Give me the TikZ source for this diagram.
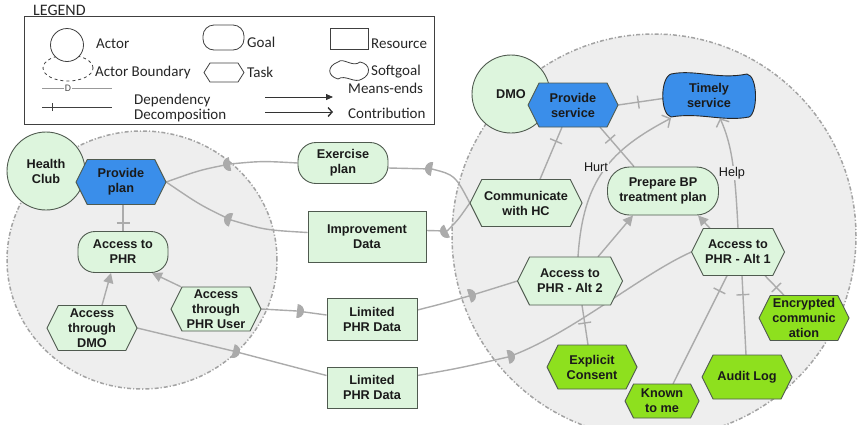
\documentclass[tikz,border=0pt]{standalone}
\usepackage{fontspec}
\setmainfont{Liberation Sans}
\newfontfamily\legfont{Carlito}
\usetikzlibrary{arrows.meta,calc,decorations.markings}

\definecolor{lgreen}{HTML}{DDF5DD}
\definecolor{bgfill}{HTML}{EEEEEE}
\definecolor{bndline}{HTML}{A3A3A3}
\definecolor{edgec}{HTML}{ABABAB}
\definecolor{blueT}{HTML}{3A8EEA}
\definecolor{greenT}{HTML}{8EE01E}
\definecolor{nodeline}{HTML}{4F5A4F}
\definecolor{txtc}{HTML}{1A1A1A}

\newcommand\ndfont{\bfseries\fontsize{12.7}{15}\selectfont}
\newcommand\lgfont{\legfont\fontsize{15}{18}\selectfont}

\pgfdeclarelayer{bnd}
\pgfdeclarelayer{edges}
\pgfsetlayers{bnd,edges,main}

% task: name, cx, cy, width, height, fill, text
\newcommand\taskat[7]{%
  \filldraw[fill=#6, draw=nodeline, line width=0.9pt]
    (#2-#4/2,#3) -- (#2-#4/2+#5/4,#3+#5/2) -- (#2+#4/2-#5/4,#3+#5/2) -- (#2+#4/2,#3)
    -- (#2+#4/2-#5/4,#3-#5/2) -- (#2-#4/2+#5/4,#3-#5/2) -- cycle;
  \node[lbl, minimum width=#4pt, minimum height=#5pt] (#1) at (#2,#3) {#7};}

% softgoal outline: style, x1, y1 (top left), x2, y2 (bottom right)
\newcommand\softshape[5]{%
  \filldraw[#1] (#2+8,#3-1)
    .. controls ({#2+0.35*(#4-#2)},#3+4) and ({#4-0.4*(#4-#2)},#3-7) .. (#4-8,#3-1)
    .. controls (#4+3,#3-3) and (#4+3,#5+5) .. (#4-6,#5+1)
    .. controls ({#4-0.35*(#4-#2)},#5-4) and ({#2+0.4*(#4-#2)},#5+6) .. (#2+8,#5+1)
    .. controls (#2-3,#5+4) and (#2-3,#3-5) .. cycle;}

% dependency mark: half disc at #1, round side facing angle #2
\newcommand\dmk[2]{%
  \fill[edgec] (#1) ++(#2-90:7) arc[start angle=#2-90, end angle=#2+90, radius=7] -- cycle;}

\begin{document}
\begin{tikzpicture}[x=1pt,y=1pt,
  lbl/.style={align=center, inner sep=0pt, font=\ndfont, text=txtc},
  goalbox/.style={lbl, draw=nodeline, fill=lgreen, line width=0.9pt},
  resbox/.style={lbl, draw=nodeline, fill=lgreen, line width=0.9pt},
  actorc/.style={lbl, circle, draw=nodeline, fill=lgreen, minimum size=78pt, line width=0.9pt},
  bndry/.style={draw=bndline, fill=bgfill, line width=1.5pt,
                dash pattern=on 4pt off 2pt on 1.2pt off 2pt},
  conn/.style={draw=edgec, line width=1.4pt},
  meansend/.style={conn, -{Triangle[length=10pt,width=10pt]}},
  contrib/.style={conn, -{Straight Barb[length=6pt,width=14pt]}},
  decomp/.style={conn, postaction={decorate, decoration={markings,
      mark=at position #1 with {\draw[edgec, line width=1.4pt] (0,-6.5pt) -- (0,6.5pt);}}}},
  decomp/.default=0.5,
  clabel/.style={font=\fontsize{12.7}{15}\selectfont, text=txtc, fill=bgfill, inner sep=1pt},
  legline/.style={draw=black!75, line width=0.8pt},
  legtxt/.style={anchor=west, font=\lgfont, text=black!85, inner sep=0pt}
]
\useasboundingbox (0,0) rectangle (857,-424);

% ---------- actor boundaries ----------
\begin{pgfonlayer}{bnd}
  \begin{scope}
    \clip (0,0) rectangle (857,-424);
    \draw[bndry] (142,-260) ellipse [x radius=135, y radius=129];
    \draw[bndry] (654,-236) circle [radius=202];
  \end{scope}
\end{pgfonlayer}

% ---------- legend ----------
\node[anchor=west, font=\legfont\fontsize{16}{18}\selectfont, text=black!85, inner sep=0pt] (legtitle) at (33,-10) {LEGEND};
\draw[legline] (24,-16) rectangle (434,-124);
\draw[black!75, line width=0.8pt, dashed] (68,-68) ellipse [x radius=25, y radius=13];
\node[circle, draw=black!75, fill=white, line width=0.8pt, minimum size=33pt, inner sep=0pt] (legactor) at (67,-45) {};
\node[legtxt] (legactortxt) at (96,-44) {Actor};
\node[legtxt] (legbndtxt) at (95,-72) {Actor Boundary};
\node[draw=black!75, line width=0.8pt, rounded corners=11pt, minimum width=41pt, minimum height=25pt, inner sep=0pt] (leggoal) at (223.5,-37.5) {};
\node[legtxt] (leggoaltxt) at (247,-42) {Goal};
\draw[black!75, line width=0.8pt] (204,-72.5) -- (210,-63) -- (238,-63) -- (244,-72.5) -- (238,-82) -- (210,-82) -- cycle;
\node[legtxt] (legtasktxt) at (247,-72) {Task};
\node[draw=black!75, line width=0.8pt, minimum width=38pt, minimum height=21pt, inner sep=0pt] (legres) at (349,-38.5) {};
\node[legtxt] (legrestxt) at (371,-44) {Resource};
\softshape{draw=black!75, fill=white, line width=0.8pt}{330}{-61}{368}{-80}
\node[legtxt] (legsofttxt) at (371,-72) {Softgoal};
\coordinate (ldA) at (42,-88);  \coordinate (ldB) at (112,-88);
\draw[black!40, line width=0.7pt] (ldA) -- (ldB);
\node[fill=white, inner sep=0.6pt, font=\legfont\fontsize{10}{10}\selectfont, text=black!70] (legD) at ($(ldA)!0.37!(ldB)$) {D};
\node[legtxt] (legdeptxt) at (134,-100) {Dependency};
\coordinate (lcA) at (42,-107); \coordinate (lcB) at (112,-107);
\draw[black!75, line width=0.8pt, postaction={decorate, decoration={markings,
      mark=at position 0.15 with {\draw[black!75, line width=0.8pt] (0,-4pt) -- (0,4pt);}}}] (lcA) -- (lcB);
\node[legtxt] (legdectxt) at (134,-116) {Decomposition};
\coordinate (lmA) at (265,-97); \coordinate (lmB) at (333,-97);
\draw[black!80, line width=0.8pt, -{Triangle[length=7pt,width=6pt]}] (lmA) -- (lmB);
\node[legtxt] (legmetxt) at (348,-88) {Means-ends};
\coordinate (lkA) at (265,-112); \coordinate (lkB) at (333,-112);
\draw[black!80, line width=0.8pt, -{Straight Barb[length=4pt,width=9pt,line width=1.4pt]}] (lkA) -- (lkB);
\node[legtxt] (legcotxt) at (348,-113) {Contribution};

% ---------- Health Club ----------
\node[actorc] (hc) at (46,-171) {Health\\Club};
\taskat{pp}{121}{-182}{90}{45}{blueT}{Provide\\plan}
\node[goalbox, rounded corners=17pt, minimum width=90pt, minimum height=41pt] (ap) at (123,-252) {Access to\\PHR};
\taskat{atd}{92}{-328}{90}{45}{lgreen}{Access\\through\\DMO}
\taskat{apu}{216}{-309}{90}{44}{lgreen}{Access\\through\\PHR User}

% ---------- dependums ----------
\node[goalbox, rounded corners=18pt, minimum width=90pt, minimum height=41pt] (ep) at (343,-163) {Exercise\\plan};
\node[resbox, minimum width=118pt, minimum height=51pt] (imp) at (367,-236.5) {Improvement\\Data};
\node[resbox, minimum width=90pt, minimum height=42pt] (lpd1) at (372,-319) {Limited\\PHR Data};
\node[resbox, minimum width=90pt, minimum height=41pt] (lpd2) at (372,-387.5) {Limited\\PHR Data};

% ---------- DMO ----------
\node[actorc] (dmo) at (511,-94) {DMO};
\taskat{ps}{573}{-105}{90}{44}{blueT}{Provide\\service}
\softshape{fill=blueT, draw=black!85, line width=0.9pt}{663}{-73}{755}{-118}
\node[lbl, minimum width=92pt, minimum height=45pt] (ts) at (709,-95.5) {Timely\\service};
\node[goalbox, rounded corners=22pt, minimum width=111pt, minimum height=48pt] (pbp) at (663,-191) {Prepare BP\\treatment plan};
\taskat{cw}{526}{-203}{112}{47}{lgreen}{Communicate\\with HC}
\taskat{alt2}{570}{-281}{105}{48}{lgreen}{Access to\\PHR - Alt 2}
\taskat{alt1}{738}{-252}{93}{47}{lgreen}{Access to\\PHR - Alt 1}
\taskat{enc}{804}{-318}{90}{45}{greenT}{Encrypted\\communic\\ation}
\taskat{ec}{592}{-367}{90}{44}{greenT}{Explicit\\Consent}
\taskat{ktm}{662}{-401}{74}{34}{greenT}{Known\\to me}
\taskat{al}{747}{-377}{90}{44}{greenT}{Audit Log}

% ---------- connectors ----------
\begin{pgfonlayer}{edges}
  % dependencies
  \coordinate (d1) at (230,-164);
  \coordinate (d2) at (231,-220);
  \coordinate (d3) at (432,-169);
  \coordinate (d4) at (447,-231);
  \coordinate (d5) at (297,-311);
  \coordinate (d6) at (233,-351);
  \coordinate (d7) at (469,-296);
  \coordinate (d8) at (508,-357);
  \draw[conn] (pp.east) .. controls (200,-170) .. (d1) .. controls (262,-161) .. (ep.west);
  \draw[conn] (pp.east) .. controls (200,-205) .. (d2) .. controls (265,-230) .. ([yshift=4pt]imp.west);
  \draw[conn] ([yshift=-5pt]ep.east) -- (d3) .. controls (455,-175) .. (cw.west);
  \draw[conn] ([yshift=6pt]imp.east) -- (d4) .. controls (458,-220) .. (cw.west);
  \draw[conn] (apu.east) -- (d5) -- ([yshift=4pt]lpd1.west);
  \draw[conn] (atd.east) -- (d6) -- ([yshift=12pt]lpd2.west);
  \draw[conn] ([yshift=9pt]lpd1.east) .. controls (445,-303) .. (d7) .. controls (495,-288) .. (alt2.west);
  \draw[conn] ([yshift=12pt]lpd2.east) .. controls (460,-368) .. (d8) .. controls (570,-335) and (640,-275) .. (alt1.west);
  \dmk{d1}{190} \dmk{d2}{162} \dmk{d3}{170} \dmk{d4}{205}
  \dmk{d5}{-6}  \dmk{d6}{-14} \dmk{d7}{17}  \dmk{d8}{12}

  % decompositions
  \draw[decomp=0.7] ([xshift=2pt]pp.south) -- (ap.north);
  \draw[decomp=0.45] (ps.east) -- ([yshift=-3pt]ts.west);
  \draw[decomp=0.27] ([xshift=-11pt]ps.south) -- ([xshift=14pt]cw.north);
  \draw[decomp=0.3] ([xshift=27pt]ps.south) -- ([xshift=-29pt]pbp.north);
  \draw[decomp=0.45] ([xshift=12pt]alt2.south) -- ([xshift=-4pt]ec.north);
  \draw[decomp=0.14] ([xshift=-11pt]alt1.south) -- ([xshift=11pt]ktm.north);
  \draw[decomp=0.24] ([xshift=4pt]alt1.south) -- ([xshift=-1pt]al.north);
  \draw[decomp=0.6] ([xshift=27pt]alt1.south) -- ([xshift=-20pt]enc.north);

  % means-ends
  \draw[meansend] ([xshift=10pt]atd.north) -- ([xshift=-12pt]ap.south);
  \draw[meansend] ([xshift=-35pt]apu.north) -- ([xshift=29pt]ap.south);
  \draw[meansend] ([xshift=28pt]alt2.north) -- ([xshift=-30pt]pbp.south);
  \draw[meansend] ([xshift=-28pt]alt1.north) -- ([xshift=35pt]pbp.south);

  % contributions
  \draw[contrib] ([xshift=8pt]alt2.north) .. controls (583,-180) and (610,-150) .. ([xshift=-38pt]ts.south);
  \draw[contrib] (alt1.north) .. controls (735,-170) and (732,-145) .. ([xshift=11pt]ts.south);
\end{pgfonlayer}
\node[clabel] (hurt) at (596,-167) {Hurt};
\node[clabel] (help) at (732,-173) {Help};
\end{tikzpicture}
\end{document}
